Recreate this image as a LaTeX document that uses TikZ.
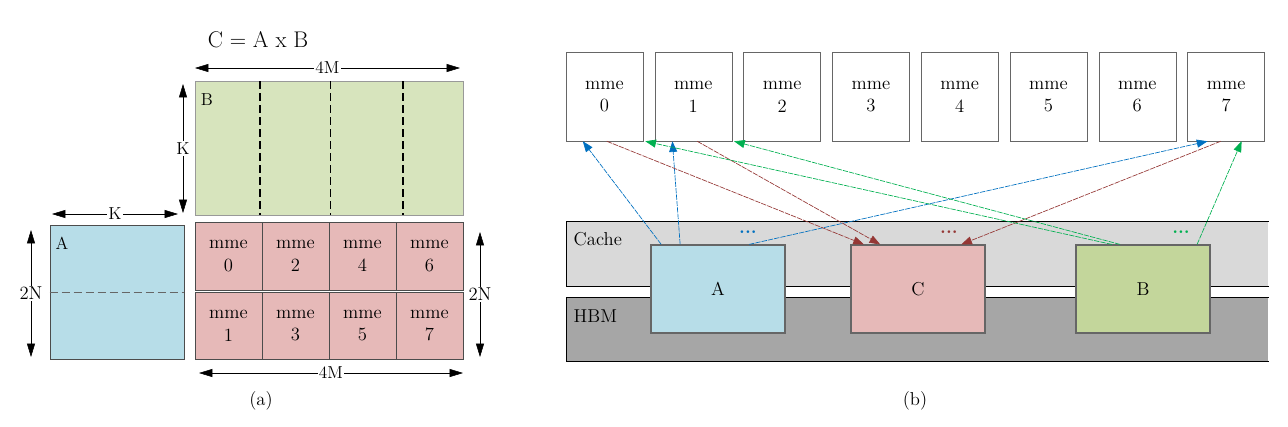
\documentclass[tikz,border=0pt]{standalone}
\usepackage{tikz}
\usetikzlibrary{arrows.meta,calc}
\definecolor{Bgreen}{HTML}{D7E4BD}
\definecolor{Ablue}{HTML}{B7DDE8}
\definecolor{Cred}{HTML}{E6B9B8}
\definecolor{Bolive}{HTML}{C3D69B}
\definecolor{CacheGray}{HTML}{D9D9D9}
\definecolor{HbmGray}{HTML}{A6A6A6}
\definecolor{LinkBlue}{HTML}{0070C0}
\definecolor{LinkRed}{HTML}{953735}
\definecolor{LinkGreen}{HTML}{00B050}
\tikzset{
    Mat/.style n args = {2}{inner sep=0pt,minimum width=#1*0.75pt,minimum height=#2*0.75pt},
    Cell/.style = {Mat={67}{68},fill=Cred,draw=black!70,align=center},
    Unit/.style = {Mat={77}{89},fill=white,draw=black!60,align=center},
    Store/.style = {Mat={134}{88},draw=black!60,line width=0.9pt},
    Band/.style = {Mat={702}{#1},anchor=north west},
    Dim/.style = {{Triangle[length=10pt,width=6pt]}-{Triangle[length=10pt,width=6pt]},thin},
    DimLabel/.style = {fill=white,inner sep=1pt,font=\fontsize{13}{15}\selectfont},
    Link/.style = {-{Triangle[length=8pt,width=6pt]},line width=0.5pt,
        dash pattern=on 4pt off 0.8pt,draw=#1,color=#1},
    Dots/.style = {text=#1,font=\bfseries\fontsize{14}{17}\selectfont}
}
\begin{document}
\begin{tikzpicture}[x=0.75pt,y=-0.75pt,font=\fontsize{14}{17}\selectfont]
\useasboundingbox (0,0) rectangle (1288,426);
% (a) matrices
\node[font=\fontsize{17}{20}\selectfont] (title) at (258,40) {C = A x B};
\node[Mat={268}{134},fill=Bgreen,draw=black!40] (B) at (329,148) {};
\foreach \x/\w in {260/1pt,330/0.6pt,403/0.8pt}
    {\draw[dash pattern=on 6pt off 3pt,line width=\w] (\x,81) -- (\x,215);}
\node[font=\fontsize{13}{15}\selectfont] (Blabel) at (207,100) {B};
\node[Mat={134}{134},fill=Ablue,draw=black!70] (A) at (117,292) {};
\draw[dash pattern=on 6pt off 3pt,black!60] (A.west) -- (A.east);
\node[font=\fontsize{13}{15}\selectfont] (Alabel) at (62,243) {A};
\foreach \c in {0,...,3}
    {\pgfmathtruncatemacro\ia{2*\c}
     \pgfmathtruncatemacro\ib{2*\c+1}
     \node[Cell] (c\ia) at (228.5+67*\c,256) {mme\\\ia};
     \node[Cell,minimum height=67*0.75pt] (c\ib) at (228.5+67*\c,325.5) {mme\\\ib};}
% dimensions
\coordinate (t4a) at (195,68);  \coordinate (t4b) at (460,68);
\coordinate (b4a) at (199,373); \coordinate (b4b) at (463,373);
\coordinate (kva) at (183,84);  \coordinate (kvb) at (183,213);
\coordinate (kha) at (52,214);  \coordinate (khb) at (178,214);
\coordinate (nla) at (31,230);  \coordinate (nlb) at (31,357);
\coordinate (nra) at (480,232); \coordinate (nrb) at (480,357);
\draw[Dim] (t4a) -- node[DimLabel] {4M} (t4b);
\draw[Dim] (b4a) -- node[DimLabel] {4M} (b4b);
\draw[Dim] (kva) -- node[DimLabel] {K} (kvb);
\draw[Dim] (kha) -- node[DimLabel] {K} (khb);
\draw[Dim] (nla) -- node[DimLabel,font=\fontsize{14}{16}\selectfont] {2N} (nlb);
\draw[Dim] (nra) -- node[DimLabel,font=\fontsize{14}{16}\selectfont] {2N} (nrb);
\node (capa) at (261,401) {(a)};
% (b) memory layout
\node[Band={65},fill=CacheGray] (cache) at (566,221) {};
\draw (cache.north east) -- (cache.north west) -- (cache.south west) -- (cache.south east);
\node[Band={64},fill=HbmGray] (hbm) at (566,297) {};
\draw (hbm.north east) -- (hbm.north west) -- (hbm.south west) -- (hbm.south east);
\node[anchor=west] (cachelabel) at (569,239) {Cache};
\node[anchor=west] (hbmlabel) at (569,316) {HBM};
\node[Store,fill=Ablue] (sA) at (718,289) {A};
\node[Store,fill=Cred] (sC) at (918,289) {C};
\node[Store,fill=Bolive] (sB) at (1143,289) {B};
\node[Dots=LinkBlue] (dA) at (748,232) {...};
\node[Dots=LinkRed] (dC) at (949,232) {...};
\node[Dots=LinkGreen] (dB) at (1181,232) {...};
\foreach \i in {0,...,7}
    {\node[Unit] (m\i) at (604.5+88.8*\i,96.5) {mme\\\i};}
% A -> mme
\draw[Link=LinkBlue] ($(sA.north west)!0.08!(sA.north east)$) -- ($(m0.south west)!0.22!(m0.south east)$);
\draw[Link=LinkBlue] ($(sA.north west)!0.22!(sA.north east)$) -- ($(m1.south west)!0.23!(m1.south east)$);
\draw[Link=LinkBlue] ($(sA.north west)!0.73!(sA.north east)$) -- ($(m7.south west)!0.26!(m7.south east)$);
% mme -> C
\draw[Link=LinkRed] ($(m0.south west)!0.53!(m0.south east)$) -- ($(sC.north west)!0.10!(sC.north east)$);
\draw[Link=LinkRed] ($(m1.south west)!0.55!(m1.south east)$) -- ($(sC.north west)!0.22!(sC.north east)$);
\draw[Link=LinkRed] ($(m7.south west)!0.43!(m7.south east)$) -- ($(sC.north west)!0.82!(sC.north east)$);
% B -> mme
\draw[Link=LinkGreen] ($(sB.north west)!0.27!(sB.north east)$) -- ($(m0.south east)+(2,0)$);
\draw[Link=LinkGreen] ($(sB.north west)!0.33!(sB.north east)$) -- ($(m1.south east)+(2,0)$);
\draw[Link=LinkGreen] ($(sB.north west)!0.90!(sB.north east)$) -- ($(m7.south west)!0.70!(m7.south east)$);
\node (capb) at (915,401) {(b)};
\end{tikzpicture}
\end{document}
